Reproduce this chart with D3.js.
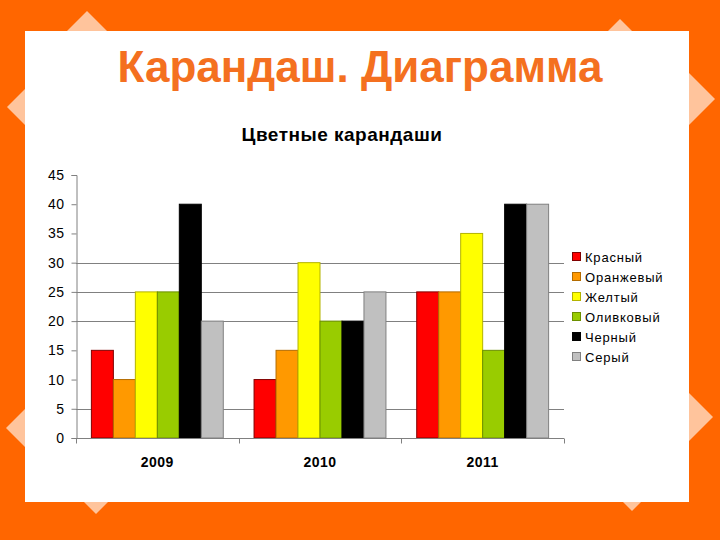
<!DOCTYPE html>
<html><head><meta charset="utf-8">
<script src="https://cdn.jsdelivr.net/npm/d3@7"></script>
<style>html,body{margin:0;padding:0;background:#ff6600;}svg{display:block;}</style>
</head><body>
<script>
const years = ["2009", "2010", "2011"];
const seriesNames = ["Красный", "Оранжевый", "Желтый", "Оливковый", "Черный", "Серый"];
const krasny = [15, 10, 25];
const oranzhevy = [10, 15, 25];
const zhelty = [25, 30, 35];
const olivkovy = [25, 20, 15];
const cherny = [40, 20, 40];
const sery = [20, 25, 40];
const yTicks = [0, 5, 10, 15, 20, 25, 30, 35, 40, 45];
const gridValues = [5, 20, 25, 30];
const fills = ["#ff0000", "#ff9900", "#ffff00", "#99cc00", "#000000", "#c0c0c0"];
const strokes = ["#800000", "#b36b00", "#b3b300", "#6b8f00", "#000000", "#808080"];

const seriesValues = [krasny, oranzhevy, zhelty, olivkovy, cherny, sery];

const W = 720, H = 540;
const svg = d3.select("body").append("svg").attr("width", W).attr("height", H);

// background
svg.append("rect").attr("width", W).attr("height", H).attr("fill", "#ff6600");
const dm = [[87, 11, "t"], [7, 107, "l"], [6, 428, "l"], [96, 514, "b"], [620, 19, "t"], [715, 99, "r"], [713, 417, "r"], [632, 511, "b"]];
const ds = 30;
dm.forEach(([x, yy, d]) => {
  let cx = x, cy = yy;
  if (d === "t") cy = yy + ds; if (d === "b") cy = yy - ds;
  if (d === "l") cx = x + ds; if (d === "r") cx = x - ds;
  svg.append("path").attr("d", `M${cx},${cy - ds}L${cx + ds},${cy}L${cx},${cy + ds}L${cx - ds},${cy}Z`).attr("fill", "#ffc49c");
});
svg.append("rect").attr("x", 25).attr("y", 31).attr("width", 664).attr("height", 471).attr("fill", "#ffffff");

svg.append("text").attr("x", 360).attr("y", 82).attr("text-anchor", "middle")
  .attr("font-family", "Liberation Sans, Arial, sans-serif").attr("font-weight", "bold")
  .attr("font-size", 44).attr("fill", "#f47020").text("Карандаш. Диаграмма");

svg.append("text").attr("x", 342).attr("y", 141).attr("text-anchor", "middle")
  .attr("font-family", "Liberation Sans, Arial, sans-serif").attr("font-weight", "bold")
  .attr("font-size", 19).attr("letter-spacing", 0.5).attr("fill", "#000").text("Цветные карандаши");

const pLeft = 76, pRight = 564, pTop = 175, pBottom = 438;
const x0 = d3.scaleBand().domain(years).range([pLeft, pRight]).paddingInner(0).paddingOuter(0);
const x1 = d3.scaleBand().domain(seriesNames).range([0, x0.bandwidth()]).paddingOuter(0.7);
const y = d3.scaleLinear().domain([0, 45]).range([pBottom, pTop]);

const g = svg.append("g");
// gridlines
g.selectAll("line.grid").data(gridValues).enter().append("line")
  .attr("x1", pLeft).attr("x2", pRight).attr("y1", d => Math.round(y(d)) + 0.5).attr("y2", d => Math.round(y(d)) + 0.5)
  .attr("stroke", "#808080").attr("stroke-width", 1);

// bars
seriesNames.forEach((name, si) => {
  g.selectAll(null).data(years).enter().append("rect")
    .attr("x", d => x0(d) + x1(name))
    .attr("y", (d, i) => y(seriesValues[si][i]))
    .attr("width", x1.bandwidth())
    .attr("height", (d, i) => y(0) - y(seriesValues[si][i]))
    .attr("fill", fills[si]).attr("stroke", strokes[si]).attr("stroke-width", 1);
});

// y axis
const yAxis = d3.axisLeft(y).tickValues(yTicks).tickSize(5).tickPadding(7);
const ya = svg.append("g").attr("transform", `translate(${pLeft + 0.5},0)`).call(yAxis);
ya.select(".domain").attr("stroke", "#808080");
ya.selectAll(".tick line").attr("stroke", "#808080");
ya.selectAll(".tick text").attr("font-family", "Liberation Sans, Arial, sans-serif").attr("font-size", 14).attr("letter-spacing", 0.5).attr("fill", "#000");

// x axis
const xa = svg.append("g").attr("transform", `translate(0,${pBottom + 0.5})`);
xa.append("line").attr("x1", pLeft).attr("x2", pRight).attr("stroke", "#808080");
const bounds = [pLeft, ...years.map(d => x0(d) + x0.bandwidth())];
xa.selectAll("line.tk").data(bounds).enter().append("line")
  .attr("x1", d => Math.round(d) + 0.5).attr("x2", d => Math.round(d) + 0.5).attr("y1", 0).attr("y2", 5).attr("stroke", "#808080");
xa.selectAll("text").data(years).enter().append("text")
  .attr("x", d => x0(d) + x0.bandwidth() / 2).attr("y", 28).attr("text-anchor", "middle")
  .attr("font-family", "Liberation Sans, Arial, sans-serif").attr("font-weight", "bold").attr("font-size", 14).attr("letter-spacing", 0.5).text(d => d);

// legend
const lg = svg.append("g");
seriesNames.forEach((name, i) => {
  const ly = 257 + i * 20;
  lg.append("rect").attr("x", 572.5).attr("y", ly - 4.5).attr("width", 8).attr("height", 8)
    .attr("fill", fills[i]).attr("stroke", strokes[i]);
  lg.append("text").attr("x", 585).attr("y", ly + 5)
    .attr("font-family", "Liberation Sans, Arial, sans-serif").attr("font-size", 13).attr("letter-spacing", 0.8).text(name);
});
</script>
</body></html>
